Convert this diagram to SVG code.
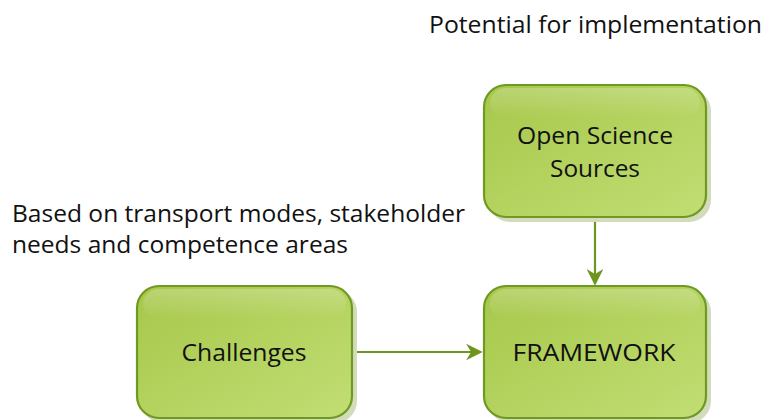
<svg xmlns="http://www.w3.org/2000/svg" width="767" height="420" viewBox="0 0 767 420">
<defs>
<linearGradient id="g" x1="0" y1="0" x2="1" y2="1">
<stop offset="0" stop-color="#a7c74a"/>
<stop offset="1" stop-color="#c1de74"/>
</linearGradient>
<linearGradient id="hl" x1="0" y1="0" x2="0" y2="1">
<stop offset="0" stop-color="#ffffff" stop-opacity="0.22"/>
<stop offset="1" stop-color="#ffffff" stop-opacity="0"/>
</linearGradient>
<marker id="arr" viewBox="0 0 10 10" refX="9" refY="5" markerWidth="7.5" markerHeight="7.5" orient="auto" markerUnits="strokeWidth">
<path d="M0,0 L10,5 L0,10 L3,5 Z" fill="#6e961f"/>
</marker>
<style>
.shadow{fill:#d3dbbd}
.box{fill:url(#g);stroke:#6f9a22;stroke-width:2.2}
.hl{fill:url(#hl)}
.lbl{font-family:"Open Sans","Noto Sans",sans-serif;font-size:24px;fill:#111111}
.cap{font-family:"Open Sans","Noto Sans",sans-serif;font-size:24px;fill:#111111}
.con{stroke:#6e961f;stroke-width:2.2;fill:none}
</style>
</defs>
<rect width="767" height="420" fill="#ffffff"/>
<text class="cap" x="429" y="33" textLength="333" lengthAdjust="spacingAndGlyphs">Potential for implementation</text>
<text class="cap" x="12" y="222" textLength="453" lengthAdjust="spacingAndGlyphs">Based on transport modes, stakeholder</text>
<text class="cap" x="12" y="253" textLength="336" lengthAdjust="spacingAndGlyphs">needs and competence areas</text>
<g id="connectors">
<line class="con" x1="595" y1="218" x2="595" y2="284" marker-end="url(#arr)"/>
<line class="con" x1="352" y1="352" x2="481" y2="352" marker-end="url(#arr)"/>
</g>
<g id="node-open-science">
<rect class="shadow" x="488" y="89" width="223" height="133" rx="22"/>
<rect class="box" x="484" y="85" width="222" height="132" rx="22"/>
<rect class="hl" x="490" y="88" width="210" height="30" rx="16"/>
<text class="lbl" x="595" y="144" text-anchor="middle" textLength="156" lengthAdjust="spacingAndGlyphs">Open Science</text>
<text class="lbl" x="595" y="177" text-anchor="middle" textLength="90" lengthAdjust="spacingAndGlyphs">Sources</text>
</g>
<g id="node-challenges">
<rect class="shadow" x="141" y="290" width="216" height="133" rx="22"/>
<rect class="box" x="137" y="286" width="215" height="132" rx="22"/>
<rect class="hl" x="143" y="289" width="203" height="30" rx="16"/>
<text class="lbl" x="244" y="361" text-anchor="middle" textLength="125" lengthAdjust="spacingAndGlyphs">Challenges</text>
</g>
<g id="node-framework">
<rect class="shadow" x="488" y="290" width="223" height="133" rx="22"/>
<rect class="box" x="484" y="286" width="222" height="132" rx="22"/>
<rect class="hl" x="490" y="289" width="210" height="30" rx="16"/>
<text class="lbl" x="594" y="361" text-anchor="middle" textLength="163" lengthAdjust="spacingAndGlyphs">FRAMEWORK</text>
</g>
</svg>
